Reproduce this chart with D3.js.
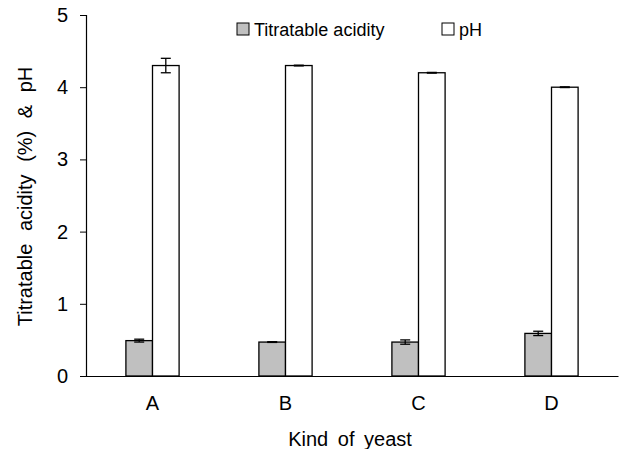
<!DOCTYPE html>
<html>
<head>
<meta charset="utf-8">
<script src="https://cdn.jsdelivr.net/npm/d3@7.9.0/dist/d3.min.js"></script>
<style>
  body { margin: 0; background: #fff; }
  svg text { font-family: "Liberation Sans", Arial, sans-serif; fill: #000; }
</style>
</head>
<body>
<svg width="632" height="449"></svg>
<script>
// data
const yeasts = ['A', 'B', 'C', 'D'];
const acidity = [0.49, 0.47, 0.47, 0.59];
const acidityErr = [0.02, 0.005, 0.03, 0.03];
const ph = [4.30, 4.30, 4.20, 4.00];
const phErr = [0.10, 0.005, 0.005, 0.005];
const seriesNames = ['Titratable acidity', 'pH'];
const seriesColors = ['#c0c0c0', '#ffffff'];
const yTicks = [0, 1, 2, 3, 4, 5];

const svg = d3.select('svg');
const margin = { top: 15, right: 14, bottom: 73, left: 86 };
const width = 632 - margin.left - margin.right;
const height = 449 - margin.top - margin.bottom;

const g = svg.append('g').attr('transform', `translate(${margin.left},${margin.top})`);

let x = d3.scaleBand().domain(yeasts).range([0, width]).paddingInner(0.6).paddingOuter(0.3);
let xSub = d3.scaleBand().domain(seriesNames).range([0, x.bandwidth()]);
let y = d3.scaleLinear().domain([0, 5]).range([height, 0]);

// rows for each bar
let rows = [];
yeasts.forEach((k, i) => {
  rows.push({ k, s: seriesNames[0], v: acidity[i], e: acidityErr[i], c: seriesColors[0] });
  rows.push({ k, s: seriesNames[1], v: ph[i], e: phErr[i], c: seriesColors[1] });
});

// bars
g.selectAll('rect.bar')
  .data(rows)
  .join('rect')
  .attr('class', 'bar')
  .attr('x', d => x(d.k) + xSub(d.s))
  .attr('y', d => y(d.v))
  .attr('width', xSub.bandwidth())
  .attr('height', d => height - y(d.v))
  .attr('fill', d => d.c)
  .attr('stroke', '#000')
  .attr('stroke-width', 1.3);

// error bars
const cap = 5;
rows.forEach(d => {
  let cx = x(d.k) + xSub(d.s) + xSub.bandwidth() / 2;
  let eg = g.append('g').attr('stroke', '#000').attr('stroke-width', 1.3);
  eg.append('line').attr('x1', cx).attr('x2', cx).attr('y1', y(d.v + d.e)).attr('y2', y(d.v - d.e));
  eg.append('line').attr('x1', cx - cap).attr('x2', cx + cap).attr('y1', y(d.v + d.e)).attr('y2', y(d.v + d.e));
  eg.append('line').attr('x1', cx - cap).attr('x2', cx + cap).attr('y1', y(d.v - d.e)).attr('y2', y(d.v - d.e));
});

// y axis
let yAxis = g.append('g')
  .call(d3.axisLeft(y).tickValues(yTicks).tickFormat(d3.format('d')).tickSize(6).tickPadding(12));
yAxis.selectAll('text').style('font-size', '20px');
yAxis.select('.domain').attr('stroke-width', 1.2);

// x axis
let xAxis = g.append('g')
  .attr('transform', `translate(0,${height})`)
  .call(d3.axisBottom(x).tickSize(0).tickPadding(20));
xAxis.selectAll('text').style('font-size', '20px');
xAxis.select('.domain').attr('stroke-width', 1.2);

// axis titles
svg.append('text')
  .attr('x', margin.left + width / 2 - 2)
  .attr('y', 446)
  .attr('text-anchor', 'middle')
  .style('font-size', '20px')
  .style('word-spacing', '4px')
  .text('Kind of yeast');

svg.append('text')
  .attr('transform', `translate(32,${margin.top + height / 2 + 1}) rotate(-90)`)
  .attr('text-anchor', 'middle')
  .style('font-size', '20px')
  .style('word-spacing', '7px')
  .text('Titratable acidity (%) & pH');

// legend
const legendX = [237, 442];
seriesNames.forEach((s, i) => {
  let lg = svg.append('g').attr('transform', `translate(${legendX[i]},23)`);
  lg.append('rect').attr('width', 12).attr('height', 12)
    .attr('fill', seriesColors[i]).attr('stroke', '#000').attr('stroke-width', 1);
  lg.append('text').attr('x', 17).attr('y', 12.5).style('font-size', '18px').text(s);
});
</script>
</body>
</html>
